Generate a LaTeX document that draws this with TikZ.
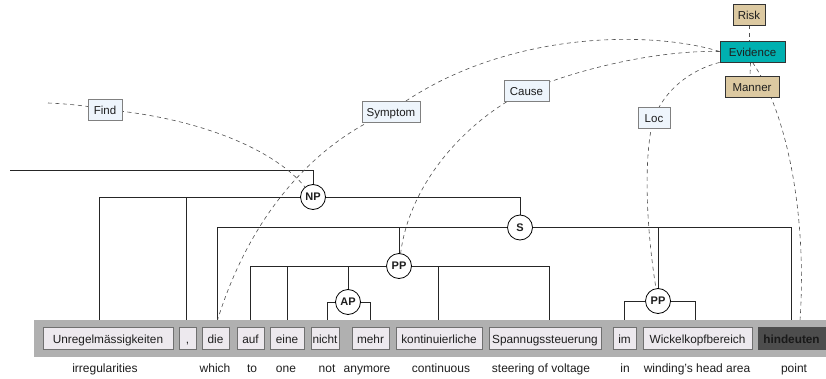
\documentclass[tikz,border=0pt]{standalone}
\usepackage{fontspec}
\setmainfont{Liberation Sans}
\pgfdeclarelayer{bg}
\pgfdeclarelayer{mid}
\pgfsetlayers{bg,mid,main}
\definecolor{wordfill}{HTML}{EDE9EE}
\definecolor{wordline}{HTML}{707070}
\definecolor{barfill}{HTML}{B0B0B0}
\definecolor{relfill}{HTML}{EEF5FC}
\definecolor{relline}{HTML}{808080}
\definecolor{tanfill}{HTML}{DCC9A1}
\definecolor{tealfill}{HTML}{00B0B0}
\definecolor{darkword}{HTML}{4D4D4D}
\definecolor{txt}{HTML}{1E1E1E}
\definecolor{dashc}{HTML}{505050}
\tikzset{
  wordbox/.style={draw=wordline, fill=wordfill, line width=0.7pt, minimum height=22pt,
    inner sep=0pt, text height=10.5pt, text depth=0.5pt,
    font=\fontsize{11.8}{14}\selectfont, text=txt},
  relbox/.style={draw=relline, fill=relfill, line width=0.8pt, minimum height=21pt,
    inner sep=0pt, text height=10.5pt, text depth=0.5pt,
    font=\fontsize{11.5}{14}\selectfont, text=txt},
  tanbox/.style={relbox, fill=tanfill, draw=black!80},
  phrase/.style={circle, draw=black, fill=white, line width=0.8pt, minimum size=25pt,
    inner sep=0pt, font=\bfseries\fontsize{11}{13}\selectfont, text=txt},
  gloss/.style={anchor=base, font=\fontsize{12}{14}\selectfont, text=txt, inner sep=0pt},
  tree/.style={line width=0.8pt, black!85},
  reldash/.style={dashc, line width=0.6pt, dash pattern=on 4pt off 3.5pt}
}
\begin{document}
\begin{tikzpicture}[x=1pt,y=-1pt]
\useasboundingbox (0,0) rectangle (826,379);
% words
\node[wordbox, minimum width=130pt] (w1) at (108,338) {Unregelmässigkeiten};
\node[wordbox, minimum width=17pt] (w2) at (187.5,338) {,};
\node[wordbox, minimum width=27pt] (w3) at (215.5,338) {die};
\node[wordbox, minimum width=27pt] (w4) at (250.5,338) {auf};
\node[wordbox, minimum width=34pt] (w5) at (287,338) {eine};
\node[wordbox, minimum width=28pt] (w6) at (325,338) {nicht};
\node[wordbox, minimum width=37pt] (w7) at (370.5,338) {mehr};
\node[wordbox, minimum width=86pt] (w8) at (439,338) {kontinuierliche};
\node[wordbox, minimum width=112pt] (w9) at (545,338) {Spannugssteuerung};
\node[wordbox, minimum width=23pt] (w10) at (624.5,338) {im};
\node[wordbox, minimum width=109pt] (w11) at (697.5,338) {Wickelkopfbereich};
\node[wordbox, minimum width=67pt, fill=darkword, draw=darkword,
  font=\bfseries\fontsize{11.8}{14}\selectfont, text=black!90] (w12) at (791.5,338.5) {hindeuten};
% glosses
\node[gloss] (t1) at (105,372) {irregularities};
\node[gloss] (t2) at (215,372) {which};
\node[gloss] (t3) at (252,372) {to};
\node[gloss] (t4) at (286,372) {one};
\node[gloss] (t5) at (327,372) {not};
\node[gloss] (t6) at (367,372) {anymore};
\node[gloss] (t7) at (441,372) {continuous};
\node[gloss] (t8) at (541,372) {steering of voltage};
\node[gloss] (t9) at (625,372) {in};
\node[gloss] (t10) at (697,372) {winding's head area};
\node[gloss] (t11) at (794,372) {point};
% phrase nodes
\node[phrase] (np) at (313,197) {NP};
\node[phrase] (s) at (520,227.5) {S};
\node[phrase] (pp) at (399,266) {PP};
\node[phrase] (ap) at (348,302) {AP};
\node[phrase] (pp2) at (658,301) {PP};
% relation labels
\node[relbox, minimum width=34pt] (find) at (105,109.5) {Find};
\node[relbox, minimum width=58pt] (sym) at (391,111.5) {Symptom};
\node[relbox, minimum width=45pt] (cause) at (526.5,91) {Cause};
\node[relbox, minimum width=32pt] (loc) at (654,117.5) {Loc};
\node[tanbox, minimum width=32pt] (risk) at (749,14.5) {Risk};
\node[relbox, minimum width=65pt, fill=tealfill, draw=black!80] (ev) at (752.5,51.5) {Evidence};
\node[tanbox, minimum width=54pt] (manner) at (752,87) {Manner};
% bar
\begin{pgfonlayer}{mid}
\fill[barfill] (34,320) rectangle (826,357);
\end{pgfonlayer}
\begin{pgfonlayer}{bg}
\fill[white] (0,0) rectangle (826,379);
% tree lines
\coordinate (npend) at (10,170);
\draw[tree] (np.north) |- (npend);
\draw[tree] (np.west) -| ([xshift=-8.5pt]w1.north);
\draw[tree] (np.west) -| ([xshift=-1.5pt]w2.north);
\draw[tree] (np.east) -| (s.north);
\draw[tree] (s.west) -| ([xshift=1.5pt]w3.north);
\draw[tree] (s.west) -| (pp.north);
\draw[tree] (s.east) -| (pp2.north);
\draw[tree] (s.east) -| (w12.north);
\draw[tree] (pp.west) -| (w4.north);
\draw[tree] (pp.west) -| (w5.north);
\draw[tree] (pp.west) -| (ap.north);
\draw[tree] (pp.east) -| ([xshift=-0.7pt]w8.north);
\draw[tree] (pp.east) -| ([xshift=4pt]w9.north);
\draw[tree] (ap.west) -| ([xshift=2pt]w6.north);
\draw[tree] (ap.east) -| (w7.north);
\draw[tree] (pp2.west) -| (w10.north);
\draw[tree] (pp2.east) -| ([xshift=-2pt]w11.north);
% relation curves
\coordinate (fstart) at (48,103);
\draw[reldash] (fstart) .. controls (70,104) and (88,106) .. (find.center);
\draw[reldash] (find.center) .. controls (200,118) and (275,150) .. (np);
\draw[reldash] (ev.west) .. controls (650,30) and (500,30) .. (sym.center);
\draw[reldash] (sym.center) .. controls (320,140) and (250,210) .. (w3.north);
\draw[reldash] (ev.west) .. controls (660,50) and (580,68) .. (cause.center);
\draw[reldash] (cause.center) .. controls (470,118) and (410,180) .. (pp);
\draw[reldash] (ev.south west) .. controls (690,70) and (665,90) .. (loc.center);
\draw[reldash] (loc.center) .. controls (644,150) and (645,220) .. (pp2);
\draw[reldash] (risk.south) -- (risk.south |- ev.north);
\draw[reldash] ([xshift=-2pt]ev.south) -- ([xshift=-2pt]manner.north);
\draw[reldash] (ev.south) .. controls (788,114) and (808,220) .. ([xshift=8pt]w12.north);
\end{pgfonlayer}
\end{tikzpicture}
\end{document}
